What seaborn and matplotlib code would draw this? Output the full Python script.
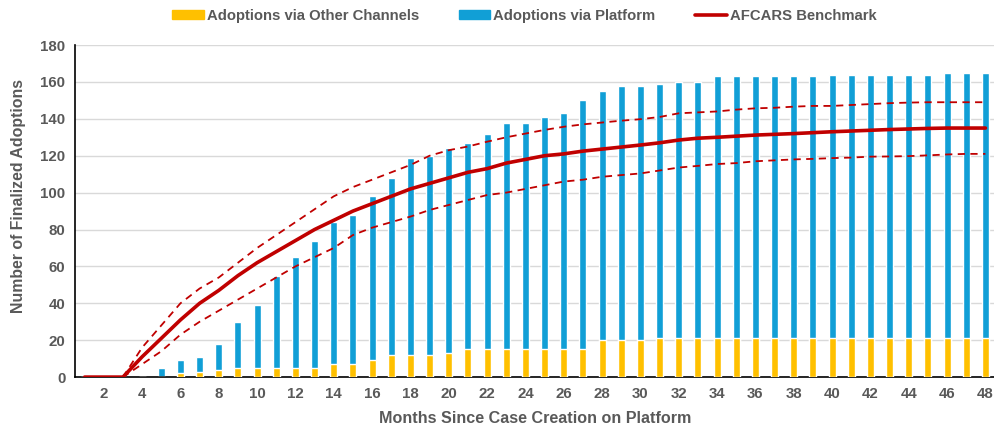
import numpy as np
import pandas as pd
import matplotlib
matplotlib.use("Agg")
import matplotlib.pyplot as plt
import seaborn as sns
from matplotlib.patches import Patch
from matplotlib.lines import Line2D

months = list(range(1, 49))

# adoptions per month (stack bottom = other channels, total bar height = all adoptions)
other_channels = [0, 0, 0, 0, 0, 2, 3, 4, 5, 5, 5, 5, 5, 7, 7, 9, 12, 12, 12, 13,
                  15, 15, 15, 15, 15, 15, 15, 20, 20, 20, 21, 21, 21, 21, 21, 21, 21, 21, 21, 21,
                  21, 21, 21, 21, 21, 21, 21, 21]
total_adoptions = [0, 0, 0, 0, 5, 9, 11, 18, 30, 39, 55, 65, 74, 84, 88, 98, 108, 119, 120, 124,
                   127, 132, 138, 138, 141, 143, 150, 155, 158, 158, 159, 160, 160, 163, 163, 163, 163, 163, 163, 164,
                   164, 164, 164, 164, 164, 165, 165, 165]
platform = [t - o for t, o in zip(total_adoptions, other_channels)]

# AFCARS benchmark with upper / lower band
bench_mean = [0, 0, 0, 11, 21, 31, 40, 47, 55, 62, 68, 74, 80, 85, 90, 94, 98, 102, 105, 108,
              111, 113, 116, 118, 120, 121, 122.5, 123.6, 124.7, 125.8, 127, 128.5, 129.5, 130, 130.6, 131.2, 131.6, 132, 132.5, 133,
              133.4, 133.8, 134.2, 134.5, 134.8, 135, 135, 135]
bench_upper = [0, 0, 0, 16, 28, 40, 48, 54, 62, 70, 77, 84, 91, 98, 103, 107, 111, 115, 120, 123,
               125, 127.6, 130, 132, 134, 135.7, 137, 138, 139, 139.8, 141, 143, 143.5, 144, 145, 145.7, 146, 146.6, 147, 147,
               147.5, 148, 148.5, 148.8, 149, 149, 149, 149]
bench_lower = [0, 0, 0, 7, 14, 23, 30, 36, 42, 48, 54, 60, 65, 70, 77, 81, 84, 87, 90.6, 93.3,
               96, 98.7, 100, 102, 104, 106, 107, 108.6, 109.5, 110.4, 112, 113.6, 114.5, 115.5, 116, 117, 117.5, 118, 118.3, 118.7,
               119, 119.5, 119.6, 119.8, 120.2, 120.7, 121, 121]

YELLOW = "#FFC000"
BLUE = "#119FD6"
RED = "#C00000"
GREY = "#595959"

sns.set_style("white")
plt.rcParams["font.family"] = ["Liberation Sans", "DejaVu Sans"]
plt.rcParams["font.weight"] = "bold"

df = pd.DataFrame({"month": months, "total": total_adoptions, "other": other_channels,
                   "mean": bench_mean, "upper": bench_upper, "lower": bench_lower})

fig = plt.figure(figsize=(9.95, 4.29), dpi=100)
ax = fig.add_axes([0.0754, 0.121, 0.9246, 0.774])

ax.grid(axis="y", color="#d9d9d9", lw=1, zorder=0)
ax.set_axisbelow(True)

sns.barplot(data=df, x="month", y="total", color=BLUE, native_scale=True, width=0.37,
            saturation=1, ax=ax, zorder=2)
sns.barplot(data=df, x="month", y="other", color=YELLOW, native_scale=True, width=0.37,
            saturation=1, ax=ax, zorder=3)
sns.lineplot(data=df, x="month", y="upper", color=RED, lw=1.3, ls=(0, (4, 3)), ax=ax, zorder=4)
sns.lineplot(data=df, x="month", y="lower", color=RED, lw=1.3, ls=(0, (4, 3)), ax=ax, zorder=4)
sns.lineplot(data=df, x="month", y="mean", color=RED, lw=2.6, ax=ax, zorder=5)

ax.set_xlim(0.5, 48.5)
ax.set_ylim(0, 180)
ax.set_xticks(range(2, 49, 2))
ax.set_yticks(range(0, 181, 20))
ax.tick_params(axis="both", length=0, labelsize=10.8, labelcolor=GREY, pad=7)
for lab in ax.get_xticklabels() + ax.get_yticklabels():
    lab.set_fontweight("bold")

ax.set_xlabel("Months Since Case Creation on Platform", fontsize=11.6, color=GREY,
              fontweight="bold", labelpad=7)
ax.set_ylabel("Number of Finalized Adoptions", fontsize=11.4, color=GREY,
              fontweight="bold")
ax.yaxis.set_label_coords(-0.053, 0.545)

for side in ["top", "right"]:
    ax.spines[side].set_visible(False)
ax.spines["left"].set_color("black")
ax.spines["bottom"].set_color("black")
ax.spines["left"].set_linewidth(1.2)
ax.spines["bottom"].set_linewidth(1.2)

handles = [Patch(color=YELLOW), Patch(color=BLUE), Line2D([], [], color=RED, lw=2.6)]
labels = ["Adoptions via Other Channels", "Adoptions via Platform", "AFCARS Benchmark"]
leg = fig.legend(handles, labels, loc="upper center", bbox_to_anchor=(0.527, 1.01), ncol=3,
                 frameon=False, handlelength=2.1, handleheight=0.55, handletextpad=0.2,
                 columnspacing=2.7, prop={"size": 10.7, "weight": "bold"})
for t in leg.get_texts():
    t.set_color(GREY)

fig.savefig("out.png", dpi=100)
